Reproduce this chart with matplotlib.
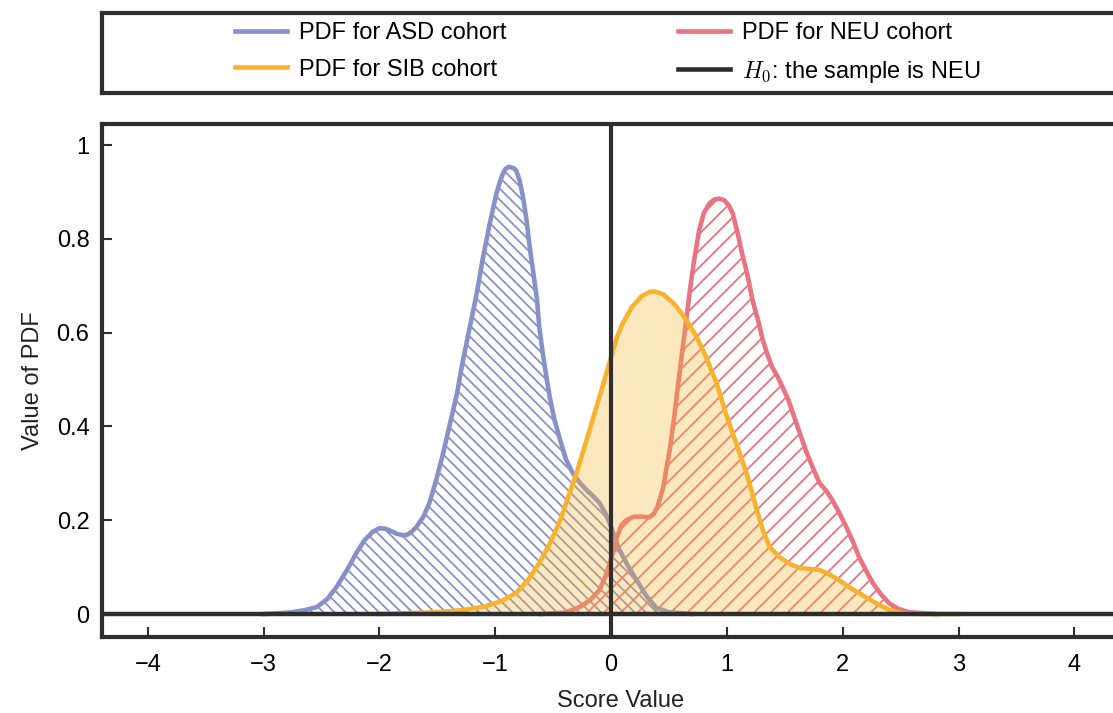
import matplotlib
matplotlib.use("Agg")
import matplotlib.pyplot as plt
from matplotlib.lines import Line2D

# values
asd_x = [-3.0, -2.85, -2.75, -2.65, -2.54, -2.45, -2.37, -2.28, -2.2, -2.13, -2.06, -2.0, -1.95,
         -1.9, -1.85, -1.8, -1.76, -1.72, -1.68, -1.62, -1.57, -1.51, -1.45, -1.39, -1.33, -1.28,
         -1.22, -1.16, -1.11, -1.05, -0.99, -0.96, -0.933, -0.91, -0.882, -0.855, -0.835, -0.818,
         -0.79, -0.761, -0.73, -0.703, -0.67, -0.64, -0.62, -0.59, -0.56, -0.53, -0.49, -0.44,
         -0.39, -0.33, -0.27, -0.21, -0.15, -0.1, -0.05, 0.0, 0.06, 0.14, 0.22, 0.3, 0.39, 0.5,
         0.7]
asd_y = [0.0, 0.002, 0.004, 0.008, 0.015, 0.032, 0.058, 0.094, 0.13, 0.157, 0.175, 0.183, 0.182,
         0.177, 0.171, 0.168, 0.169, 0.176, 0.186, 0.208, 0.236, 0.286, 0.343, 0.407, 0.471, 0.54,
         0.612, 0.684, 0.755, 0.83, 0.897, 0.922, 0.94, 0.95, 0.954, 0.952, 0.95, 0.945,
         0.925, 0.89, 0.84, 0.783, 0.725, 0.67, 0.612, 0.556, 0.508, 0.463, 0.415, 0.371,
         0.33, 0.3, 0.28, 0.264, 0.25, 0.237, 0.215, 0.186, 0.143, 0.105, 0.072, 0.04, 0.013, 0.004,
         0.0]

sib_x = [-2.0, -1.5, -1.3, -1.11, -0.95, -0.82, -0.72, -0.62, -0.53, -0.44, -0.37, -0.3, -0.23,
         -0.16, -0.08, -0.01, 0.05, 0.1, 0.18, 0.26, 0.33, 0.375, 0.45, 0.55, 0.65, 0.74, 0.82,
         0.91, 0.99, 1.08, 1.17, 1.25, 1.31, 1.37, 1.45, 1.54, 1.63, 1.72, 1.8, 1.88, 1.97, 2.05,
         2.14, 2.23, 2.32, 2.4, 2.46, 2.55, 2.7, 3.0]
sib_y = [0.0, 0.004, 0.008, 0.015, 0.027, 0.045, 0.072, 0.109, 0.15, 0.2, 0.25, 0.3, 0.356,
         0.414, 0.48, 0.54, 0.59, 0.62, 0.655, 0.677, 0.687, 0.688, 0.682, 0.66, 0.627, 0.59, 0.548,
         0.493, 0.428, 0.364, 0.3, 0.229, 0.179, 0.143, 0.122, 0.107, 0.098, 0.096, 0.094, 0.085,
         0.072, 0.058, 0.045, 0.031, 0.019, 0.009, 0.004, 0.001, 0.0, 0.0]

neu_x = [-0.6, -0.4, -0.27, -0.18, -0.1, -0.05, -0.01, 0.05, 0.09, 0.13, 0.19, 0.25, 0.33, 0.37,
         0.4, 0.45, 0.51, 0.55, 0.59, 0.64, 0.68, 0.72, 0.76, 0.8, 0.85, 0.89, 0.936, 0.98, 1.02,
         1.05, 1.09, 1.13, 1.18, 1.22, 1.27, 1.31, 1.35, 1.39, 1.44, 1.48, 1.53, 1.57, 1.63, 1.69,
         1.75, 1.8, 1.86, 1.91, 1.97, 2.03, 2.09, 2.14, 2.2, 2.26, 2.33, 2.4, 2.48, 2.57, 2.8]
neu_y = [0.0, 0.003, 0.015, 0.03, 0.051, 0.08, 0.109, 0.164, 0.19, 0.2, 0.207, 0.208, 0.206, 0.214,
         0.228, 0.27, 0.357, 0.43, 0.513, 0.61, 0.69, 0.76, 0.818, 0.855, 0.876, 0.884, 0.886, 0.882,
         0.87, 0.854, 0.815, 0.77, 0.72, 0.67, 0.625, 0.584, 0.553, 0.527, 0.505, 0.484, 0.457, 0.428,
         0.385, 0.343, 0.307, 0.279, 0.262, 0.243, 0.216, 0.186, 0.153, 0.122, 0.093, 0.066, 0.042,
         0.023, 0.011, 0.004, 0.0]

h0_x = 0.0
xticks = [-4, -3, -2, -1, 0, 1, 2, 3, 4]
yticks = [0, 0.2, 0.4, 0.6, 0.8, 1]
ytick_labels = ["0", "0.2", "0.4", "0.6", "0.8", "1"]
labels = ["PDF for ASD cohort", "PDF for SIB cohort", "PDF for NEU cohort",
          r"$H_0$: the sample is NEU"]

BLUE = "#8791c8"
RED = "#e87482"
YELLOW = "#f8b32e"
DARK = "#2e2e2e"

plt.rcParams["font.family"] = ["Liberation Sans", "DejaVu Sans"]
plt.rcParams["mathtext.fontset"] = "cm"
plt.rcParams["hatch.linewidth"] = 1.3
FS = 17
LW = 3.3

fig = plt.figure(figsize=(11.13, 7.13), dpi=100)
ax = fig.add_axes([0.0916, 0.1066, 0.932, 0.7194])

ax.fill_between(asd_x, asd_y, facecolor="none", edgecolor=BLUE, hatch="\\\\\\", linewidth=0, zorder=1)
ax.plot(asd_x, asd_y, color=BLUE, lw=LW, zorder=2, solid_joinstyle="round")
ax.fill_between(neu_x, neu_y, facecolor="none", edgecolor=RED, hatch="//", linewidth=0, zorder=1)
ax.plot(neu_x, neu_y, color=RED, lw=LW, zorder=2, solid_joinstyle="round")
ax.fill_between(sib_x, sib_y, facecolor=YELLOW, alpha=0.3, linewidth=0, zorder=3)
ax.plot(sib_x, sib_y, color=YELLOW, lw=LW, zorder=4, solid_joinstyle="round")
ax.axvline(h0_x, color=DARK, lw=3, zorder=5)
ax.axhline(0, color=DARK, lw=3.2, zorder=6)

ax.set_xlim(-4.396, 4.56)
ax.set_ylim(-0.049, 1.045)
ax.set_xticks(xticks)
ax.set_yticks(yticks)
ax.set_yticklabels(ytick_labels)
ax.tick_params(direction="in", length=7, width=1.5, color=DARK, labelsize=FS, pad=9)
ax.tick_params(axis="x", pad=12)
ax.set_xlabel("Score Value", fontsize=FS, labelpad=10, color="#222222")
ax.set_ylabel("Value of PDF", fontsize=FS, labelpad=9, color="#222222")
for s in ax.spines.values():
    s.set_linewidth(3)
    s.set_color(DARK)

# legend in its own framed strip
lax = fig.add_axes([0.0916, 0.8696, 0.932, 0.1122])
lax.set_xticks([])
lax.set_yticks([])
for s in lax.spines.values():
    s.set_linewidth(3)
    s.set_color(DARK)
handles = [Line2D([], [], color=c, lw=LW) for c in (BLUE, YELLOW, RED, DARK)]
lax.legend(handles, labels, ncol=2, frameon=False, fontsize=FS, loc="center left",
           bbox_to_anchor=(223 / 1113, 0.925), bbox_transform=fig.transFigure,
           borderpad=0, handlelength=2.2, handletextpad=0.5, columnspacing=7.3,
           labelspacing=0.6)

fig.savefig("out.png", dpi=100)
